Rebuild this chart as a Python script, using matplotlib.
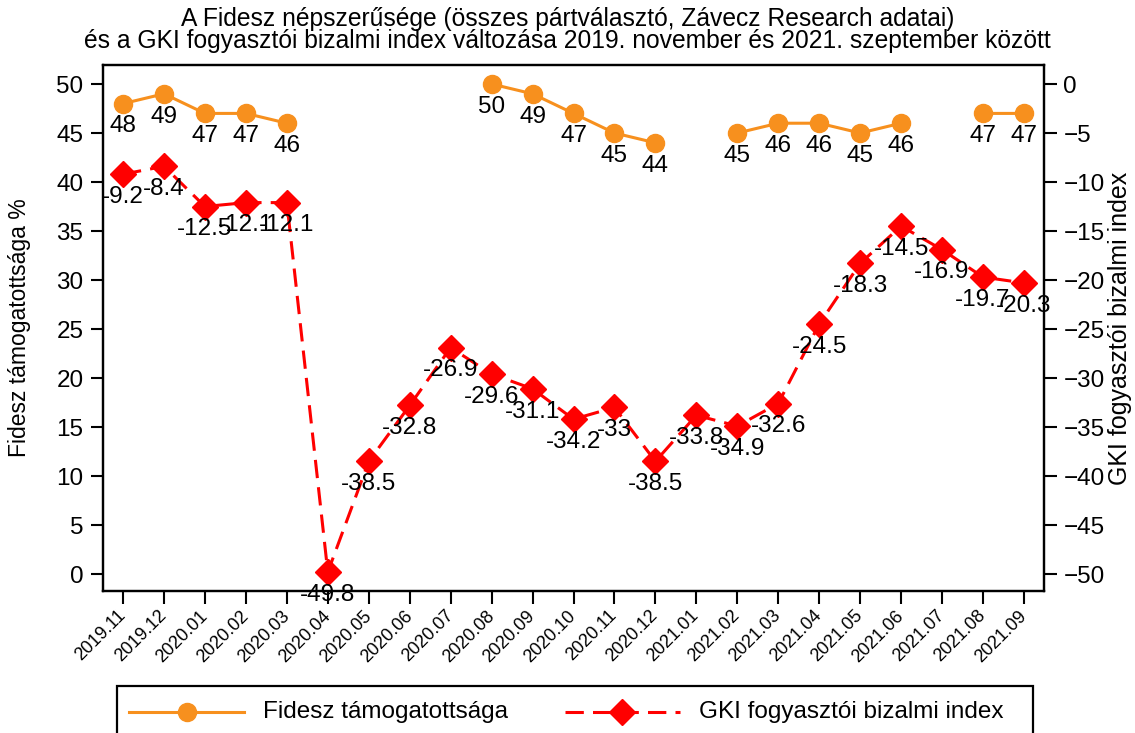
import matplotlib
matplotlib.use("Agg")
import matplotlib.pyplot as plt
import numpy as np
from matplotlib.lines import Line2D
from matplotlib.patches import Rectangle

months = ["2019.11", "2019.12", "2020.01", "2020.02", "2020.03", "2020.04", "2020.05",
          "2020.06", "2020.07", "2020.08", "2020.09", "2020.10", "2020.11", "2020.12",
          "2021.01", "2021.02", "2021.03", "2021.04", "2021.05", "2021.06", "2021.07",
          "2021.08", "2021.09"]
fidesz = [48, 49, 47, 47, 46, None, None, None, None, 50, 49, 47, 45, 44,
          None, 45, 46, 46, 45, 46, None, 47, 47]
gki = [-9.2, -8.4, -12.5, -12.1, -12.1, -49.8, -38.5, -32.8, -26.9, -29.6, -31.1,
       -34.2, -33, -38.5, -33.8, -34.9, -32.6, -24.5, -18.3, -14.5, -16.9, -19.7, -20.3]

plt.rcParams['font.family'] = ['Liberation Sans', 'DejaVu Sans']

ORANGE = '#F7901E'
RED = '#FF0000'
W, H = 1135, 733
DASH = (0, (6, 3))

fig = plt.figure(figsize=(W / 100, H / 100), dpi=100)
ax = fig.add_axes([103 / W, 1 - 591 / H, (1044 - 103) / W, (591 - 65) / H])
ax2 = ax.twinx()

x = np.arange(len(months))
fy = np.array([np.nan if v is None else v for v in fidesz], dtype=float)

ax.plot(x, fy, color=ORANGE, lw=2.2, marker='o', ms=13, zorder=3)
for xi, v in zip(x, fidesz):
    if v is not None:
        ax.annotate(f"{v}", (xi, v), xytext=(0, -8.5), textcoords='offset points',
                    ha='center', va='top', fontsize=17.5)

ax2.plot(x, gki, color=RED, lw=2.2, ls=DASH, marker='D', ms=13, zorder=3)
for xi, v in zip(x, gki):
    ax2.annotate(f"{v:g}", (xi, v), xytext=(0, -8.5), textcoords='offset points',
                 ha='center', va='top', fontsize=17.5)

ax.set_xlim(-0.49, 22.49)
ax.set_ylim(-1.73, 51.94)
ax2.set_ylim(-51.73, 1.94)
ax.set_yticks(range(0, 51, 5))
ax2.set_yticks(range(-50, 1, 5))
ax.set_xticks(x)
ax.set_xticklabels(months, rotation=45, ha='right', va='center',
                   rotation_mode='anchor', fontsize=13)

for a in (ax, ax2):
    a.tick_params(axis='y', length=9, width=1.5, labelsize=17.5, pad=5)
    for s in a.spines.values():
        s.set_linewidth(1.6)
ax.tick_params(axis='x', length=9, width=1.5, pad=7)

ax.set_ylabel("Fidesz támogatottsága %", fontsize=16.5)
ax.yaxis.set_label_coords(-(103 - 31) / (1044 - 103), 0.5)
ax2.set_ylabel("GKI fogyasztói bizalmi index", fontsize=18)
ax2.yaxis.set_label_coords(1 + (1108 - 1044) / (1044 - 103), 0.5)

fig.text(0.5, 1 - 26 / H, "A Fidesz népszerűsége (összes pártválasztó, Závecz Research adatai)",
         ha='center', va='baseline', fontsize=17.7)
fig.text(0.5, 1 - 48 / H,
         "és a GKI fogyasztói bizalmi index változása 2019. november és 2021. szeptember között",
         ha='center', va='baseline', fontsize=17.7)

# legend (bottom, partly cut off like the reference)
def fx(px):
    return px / W

def fyp(py):
    return 1 - py / H

fig.add_artist(Rectangle((fx(117), fyp(770)), fx(1033) - fx(117), fyp(686) - fyp(770),
                         transform=fig.transFigure, fill=False, ec='black', lw=1.6,
                         clip_on=False))
ly = fyp(712)
fig.add_artist(Line2D([fx(129), fx(244)], [ly, ly], transform=fig.transFigure,
                      color=ORANGE, lw=2.2))
fig.add_artist(Line2D([fx(187)], [ly], transform=fig.transFigure, color=ORANGE,
                      marker='o', ms=13, ls='none'))
fig.text(fx(263), ly, "Fidesz támogatottsága", ha='left', va='center', fontsize=17.5)
fig.add_artist(Line2D([fx(565), fx(680)], [ly, ly], transform=fig.transFigure,
                      color=RED, lw=2.2, ls=DASH))
fig.add_artist(Line2D([fx(622)], [ly], transform=fig.transFigure, color=RED,
                      marker='D', ms=13, ls='none'))
fig.text(fx(699), ly, "GKI fogyasztói bizalmi index", ha='left', va='center', fontsize=17.5)

fig.savefig("out.png", dpi=100)
